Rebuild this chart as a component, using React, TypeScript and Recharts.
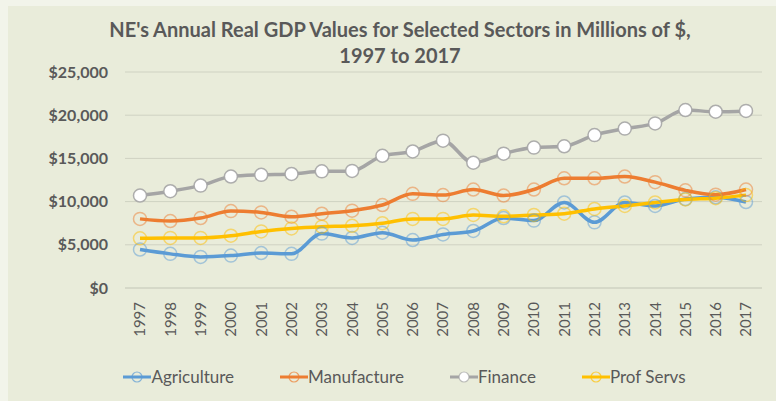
import React from "react";
import { LineChart, Line, XAxis, YAxis, CartesianGrid } from "recharts";

const years = [
  "1997", "1998", "1999", "2000", "2001", "2002", "2003", "2004", "2005", "2006", "2007",
  "2008", "2009", "2010", "2011", "2012", "2013", "2014", "2015", "2016", "2017",
];
const agriculture = [4450, 3950, 3600, 3750, 4050, 3950, 6300, 5800, 6400, 5550, 6200, 6600, 8100, 7800, 9900, 7600, 9900, 9500, 10300, 10500, 9950];
const manufacture = [8000, 7750, 8100, 8900, 8750, 8250, 8600, 8950, 9600, 10900, 10750, 11400, 10700, 11400, 12700, 12700, 12900, 12250, 11300, 10800, 11400];
const finance = [10700, 11200, 11850, 12900, 13100, 13200, 13500, 13550, 15300, 15800, 17050, 14500, 15550, 16250, 16400, 17700, 18450, 19050, 20600, 20400, 20500];
const profServs = [5750, 5800, 5800, 6050, 6550, 6900, 7100, 7200, 7500, 8000, 8000, 8450, 8300, 8450, 8600, 9150, 9500, 9900, 10250, 10400, 10750];
const yTicks = [0, 5000, 10000, 15000, 20000, 25000];

const data = years.map((year, i) => ({
  year,
  Agriculture: agriculture[i],
  Manufacture: manufacture[i],
  Finance: finance[i],
  "Prof Servs": profServs[i],
}));

const series = [
  { key: "Agriculture", color: "#5b9bd5", fill: "none" },
  { key: "Manufacture", color: "#ed7d31", fill: "none" },
  { key: "Finance", color: "#a5a5a5", fill: "#ffffff" },
  { key: "Prof Servs", color: "#ffc000", fill: "none" },
];

const FONT = "Lato, 'Open Sans', sans-serif";
const TEXT = "#595959";

const fmt = (v: number) => "$" + v.toLocaleString("en-US");

const YTick = (props: any) => {
  const { y, payload } = props;
  return (
    <text x={108} y={y} dy="0.35em" textAnchor="end" fill={TEXT} fontSize={16} fontWeight={700} fontFamily={FONT}>
      {fmt(payload.value)}
    </text>
  );
};

const XTick = (props: any) => {
  const { x, payload } = props;
  return (
    <g transform={`translate(${x},302) rotate(-90)`}>
      <text x={0} y={0} dy="0.36em" textAnchor="end" fill={TEXT} fontSize={15} fontFamily={FONT}>
        {payload.value}
      </text>
    </g>
  );
};

const makeDot = (color: string, fill: string) => (props: any) => {
  const { cx, cy, index } = props;
  if (cx == null || cy == null) return <g key={index} />;
  return (
    <circle
      key={index}
      cx={cx}
      cy={cy}
      r={6.5}
      fill={fill}
      stroke={color}
      strokeOpacity={fill === "none" ? 0.5 : 0.9}
      strokeWidth={1.5}
    />
  );
};

const LegendContent = () => (
  <div style={{ display: "flex", justifyContent: "center", gap: 46, paddingLeft: 33, fontFamily: FONT }}>
    {series.map((s) => (
      <div key={s.key} style={{ display: "flex", alignItems: "center" }}>
        <svg width={28} height={16}>
          <line x1={0} y1={8} x2={28} y2={8} stroke={s.color} strokeWidth={3} />
          <circle cx={14} cy={8} r={5} fill={s.fill} stroke={s.color} strokeOpacity={0.7} strokeWidth={1.2} />
        </svg>
        <span style={{ color: TEXT, fontSize: 17 }}>{s.key}</span>
      </div>
    ))}
  </div>
);

export default function App() {
  return (
    <div
      style={{
        position: "absolute",
        left: 0,
        top: 0,
        width: 776,
        height: 401,
        background: "#f2f4ea",
        overflow: "hidden",
      }}
    >
      <div
        style={{
          position: "absolute",
          left: 8,
          top: 6,
          right: 0,
          bottom: 0,
          background: "#e9ecda",
        }}
      />
      <div
        style={{
          position: "absolute",
          left: 0,
          top: 16,
          width: 800,
          textAlign: "center",
          fontFamily: FONT,
          fontWeight: 700,
          fontSize: 20,
          lineHeight: "26px",
          color: TEXT,
        }}
      >
        NE's Annual Real GDP Values for Selected Sectors in Millions of $,
        <br />
        1997 to 2017
      </div>
      <div style={{ position: "absolute", left: 0, top: 0 }}>
        <LineChart width={776} height={401} data={data} margin={{ top: 72, right: 14, bottom: 0, left: 8 }}>
          <CartesianGrid horizontal vertical={false} stroke="#cfd2c2" strokeWidth={1} />
          <XAxis
            dataKey="year"
            axisLine={{ stroke: "#cfd2c2" }}
            tickLine={false}
            tick={<XTick />}
            interval={0}
            height={113}
            padding={{ left: 15, right: 16 }}
          />
          <YAxis
            domain={[0, 25000]}
            ticks={yTicks}
            width={117}
            axisLine={false}
            tickLine={false}
            tick={<YTick />}
          />
          {series.map((s) => (
            <Line
              key={s.key}
              type="monotone"
              dataKey={s.key}
              stroke={s.color}
              strokeWidth={3.5}
              dot={makeDot(s.color, s.fill)}
              activeDot={false}
              isAnimationActive={false}
            />
          ))}
        </LineChart>
      </div>
      <div style={{ position: "absolute", left: 0, top: 366, width: 776 }}>
        <LegendContent />
      </div>
    </div>
  );
}
